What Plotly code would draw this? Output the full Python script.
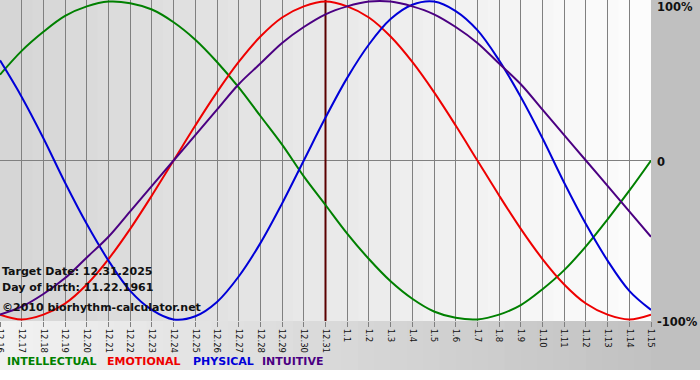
import plotly.graph_objects as go

# ---------------- data ----------------
dates = ["12.16", "12.17", "12.18", "12.19", "12.20", "12.21", "12.22", "12.23",
         "12.24", "12.25", "12.26", "12.27", "12.28", "12.29", "12.30", "12.31",
         "1.1", "1.2", "1.3", "1.4", "1.5", "1.6", "1.7", "1.8", "1.9", "1.10",
         "1.11", "1.12", "1.13", "1.14", "1.15"]

intellectual = [0.54, 0.69, 0.81, 0.91, 0.97, 1.00, 0.99, 0.95, 0.87, 0.76, 0.62,
                0.46, 0.28, 0.10, -0.10, -0.28, -0.46, -0.62, -0.76, -0.87, -0.95,
                -0.99, -1.00, -0.97, -0.91, -0.81, -0.69, -0.54, -0.37, -0.19, 0.00]
emotional = [-0.97, -1.00, -0.97, -0.90, -0.78, -0.62, -0.43, -0.22, 0.00, 0.22, 0.43,
             0.62, 0.78, 0.90, 0.97, 1.00, 0.97, 0.90, 0.78, 0.62, 0.43, 0.22, 0.00,
             -0.22, -0.43, -0.62, -0.78, -0.90, -0.97, -1.00, -0.97]
physical = [0.63, 0.40, 0.14, -0.14, -0.40, -0.63, -0.82, -0.94, -1.00, -0.98, -0.89,
            -0.73, -0.52, -0.27, 0.00, 0.27, 0.52, 0.73, 0.89, 0.98, 1.00, 0.94, 0.82,
            0.63, 0.40, 0.14, -0.14, -0.40, -0.63, -0.82, -0.94]
intuitive = [-0.97, -0.92, -0.84, -0.74, -0.61, -0.48, -0.32, -0.16, 0.00, 0.16, 0.32,
             0.48, 0.61, 0.74, 0.84, 0.92, 0.97, 1.00, 1.00, 0.97, 0.92, 0.84, 0.74,
             0.61, 0.48, 0.32, 0.16, 0.00, -0.16, -0.32, -0.48]

target_date = "12.31"
info_lines = ["Target Date: 12.31.2025", "Day of birth: 11.22.1961",
              "\u00a92010 biorhythm-calculator.net"]
series_names = ["INTELLECTUAL", "EMOTIONAL", "PHYSICAL", "INTUITIVE"]
y_labels = ["100%", "0", "-100%"]
y_label_vals = [1, 0, -1]

# ---------------- styling ----------------
W, H = 700, 380
PL, PR, PT, PB = 0, 651, 0, 321  # plot area in pixels
FONT = "DejaVu Sans"
colors = {"INTELLECTUAL": "#008000", "EMOTIONAL": "#ee0000",
          "PHYSICAL": "#0000d8", "INTUITIVE": "#4b0082"}
series = {"INTELLECTUAL": intellectual, "EMOTIONAL": emotional,
          "PHYSICAL": physical, "INTUITIVE": intuitive}


def px_x(px):
    return (px - PL) / (PR - PL)


def px_y(py):
    return (PB - py) / (PB - PT)


def grey(v):
    v = int(round(v))
    return f"rgb({v},{v},{v})"


x_idx = list(range(len(dates)))
fig = go.Figure()

# target date line (drawn first so the curves sit on top)
ti = dates.index(target_date)
fig.add_trace(go.Scatter(x=[x_idx[ti], x_idx[ti]], y=[-1.01, 1.01], mode="lines",
                         line=dict(color="#5a0000", width=2),
                         showlegend=False, hoverinfo="skip"))

for name in series_names:
    fig.add_trace(go.Scatter(
        x=x_idx, y=series[name], mode="lines",
        line=dict(color=colors[name], width=2, shape="spline", smoothing=1.0),
        showlegend=False, hoverinfo="skip"))

shapes = []
# outer background (bottom band + right strip)
N = 40
bottom_px = 370
for k in range(N):
    x0 = k / N
    x1 = (k + 1) / N + 0.003
    shapes.append(dict(type="rect", xref="paper", yref="paper",
                       x0=x0, x1=x1, y0=px_y(bottom_px), y1=0,
                       fillcolor=grey(242 - (242 - 193) * (k + 0.5) / N),
                       line=dict(width=0), layer="below"))
    shapes.append(dict(type="rect", xref="paper", yref="paper",
                       x0=x0, x1=x1, y0=0, y1=1,
                       fillcolor=grey(213 + (253 - 213) * (k + 0.5) / N),
                       line=dict(width=0), layer="below"))
shapes.append(dict(type="rect", xref="paper", yref="paper",
                   x0=1, x1=px_x(W + 5), y0=px_y(bottom_px), y1=px_y(-5),
                   fillcolor=grey(192), line=dict(width=0), layer="below"))

annotations = []
# right-hand value labels
for lab, v in zip(y_labels, y_label_vals):
    ypx = {1: 7, 0: 162, -1: 322}[v]
    annotations.append(dict(xref="paper", yref="paper", x=px_x(655), y=px_y(ypx),
                            text=f"<b>{lab}</b>", showarrow=False, xanchor="left",
                            yanchor="middle",
                            font=dict(family=FONT, size=11.5, color="#111111")))

# info text overlay
for line, ypx in zip(info_lines, [271, 287, 307]):
    annotations.append(dict(xref="paper", yref="paper", x=px_x(0), y=px_y(ypx),
                            text=f"<b>{line}</b>", showarrow=False, xanchor="left",
                            yanchor="middle",
                            font=dict(family=FONT, size=11, color="#111111")))

# legend
for name, xpx in zip(series_names, [5, 105, 191, 260]):
    annotations.append(dict(xref="paper", yref="paper", x=px_x(xpx), y=px_y(362),
                            text=f"<b>{name}</b>", showarrow=False, xanchor="left",
                            yanchor="middle",
                            font=dict(family=FONT, size=11, color=colors[name])))

fig.update_layout(
    width=W, height=H,
    margin=dict(l=PL, r=W - PR, t=PT, b=H - PB, pad=0, autoexpand=False),
    paper_bgcolor="white", plot_bgcolor="rgba(0,0,0,0)",
    shapes=shapes, annotations=annotations, showlegend=False,
    xaxis=dict(range=[0, len(dates) - 1], tickmode="array", tickvals=x_idx,
               ticktext=dates, tickangle=90, showgrid=True, gridcolor="#808080",
               gridwidth=1, zeroline=False, showline=False, ticks="outside",
               ticklen=5, tickcolor="#808080", automargin=False,
               tickfont=dict(family=FONT, size=8.5, color="#111111"),
               ticklabeloverflow="allow", fixedrange=True),
    yaxis=dict(range=[-1.01, 1.01], showgrid=False, zeroline=True,
               zerolinecolor="#808080", zerolinewidth=1, showticklabels=False,
               showline=False, ticks="", fixedrange=True, automargin=False),
)

fig.write_html("out.html", config={"displayModeBar": False},
               post_script="document.body.style.margin='0';"
                           "document.body.style.padding='0';")
